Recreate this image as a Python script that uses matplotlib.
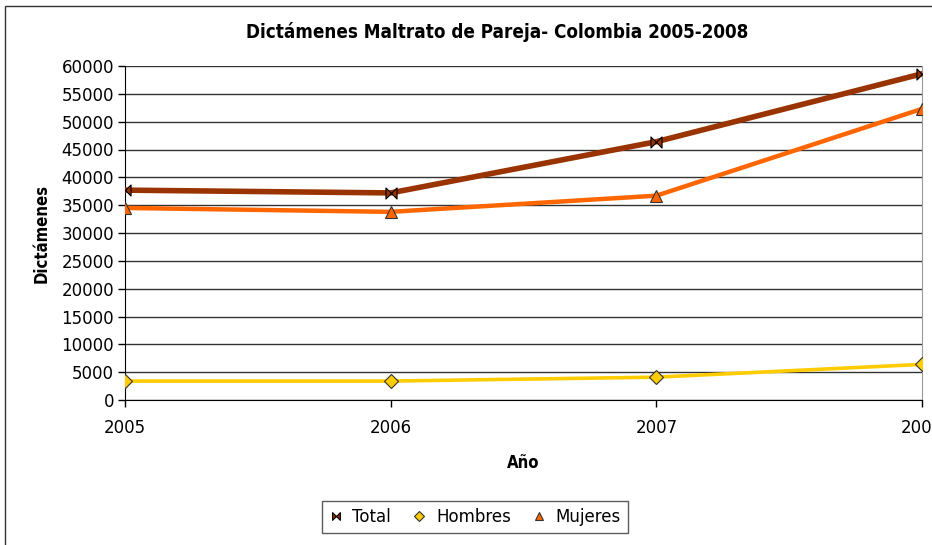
import matplotlib
matplotlib.use('Agg')
import matplotlib.pyplot as plt
from matplotlib.path import Path
from matplotlib.patches import Rectangle

# Data
years = [2005, 2006, 2007, 2008]
total = [37700, 37200, 46400, 58600]
hombres = [3400, 3400, 4100, 6400]
mujeres = [34500, 33800, 36700, 52300]
y_ticks = list(range(0, 60001, 5000))

# bowtie marker for the "Total" series
bowtie = Path([(-1, 1), (1, -1), (1, 1), (-1, -1), (-1, 1)],
              [Path.MOVETO, Path.LINETO, Path.LINETO, Path.LINETO, Path.CLOSEPOLY])

fig = plt.figure(figsize=(9.32, 5.45), dpi=100)
ax = fig.add_axes([125 / 932, 1 - 400 / 545, (922 - 125) / 932, (400 - 66) / 545])

# outer frame of the chart (cut at right and bottom)
fig.patches.append(Rectangle((5 / 932, -0.1), 1.2, 1 - 6 / 545 + 0.1,
                             transform=fig.transFigure, fill=False,
                             edgecolor='#333333', linewidth=1.0))

ax.plot(years, total, color='#993300', linewidth=4.0, marker=bowtie, markersize=8,
        markerfacecolor='#993300', markeredgecolor='black', markeredgewidth=0.8,
        label='Total', zorder=4)
ax.plot(years, hombres, color='#FFCC00', linewidth=2.6, marker='D', markersize=7,
        markerfacecolor='#FFCC00', markeredgecolor='#333333', markeredgewidth=0.8,
        label='Hombres', zorder=4)
ax.plot(years, mujeres, color='#FF6600', linewidth=3.2, marker='^', markersize=8,
        markerfacecolor='#FF6600', markeredgecolor='#333333', markeredgewidth=0.8,
        label='Mujeres', zorder=4)

ax.set_xlim(2005, 2008)
ax.set_ylim(0, 60000)
ax.set_yticks(y_ticks)
ax.set_xticks(years)
ax.set_xticklabels([str(y) for y in years])
ax.yaxis.grid(True, color='#333333', linewidth=1.0)
ax.set_axisbelow(True)
ax.tick_params(axis='both', labelsize=12, direction='out', length=5, width=1, pad=3)
ax.tick_params(axis='x', pad=9)

ax.spines['top'].set_visible(False)
ax.spines['right'].set_color('#999999')
ax.spines['left'].set_color('black')
ax.spines['bottom'].set_color('black')

ax.set_xlabel('Año', fontsize=12, fontweight='bold', fontstretch='condensed', labelpad=12)
ax.set_ylabel('Dictámenes', fontsize=12, fontweight='bold', fontstretch='condensed', labelpad=8)
fig.text(497 / 932, 1 - 32 / 545, 'Dictámenes Maltrato de Pareja- Colombia 2005-2008',
         ha='center', va='center', fontsize=13.5, fontweight='bold', fontstretch='condensed')

leg = fig.legend(loc='center', bbox_to_anchor=(475 / 932, 1 - 517 / 545), ncol=3,
                 frameon=True, fancybox=False, fontsize=12, handlelength=0.8,
                 handletextpad=0.6, columnspacing=1.3, borderpad=0.4, markerscale=0.7)
leg.get_frame().set_edgecolor('#333333')
leg.get_frame().set_linewidth(1.0)
for line in leg.get_lines():
    line.set_linestyle('none')

fig.savefig('out.png', dpi=100)
